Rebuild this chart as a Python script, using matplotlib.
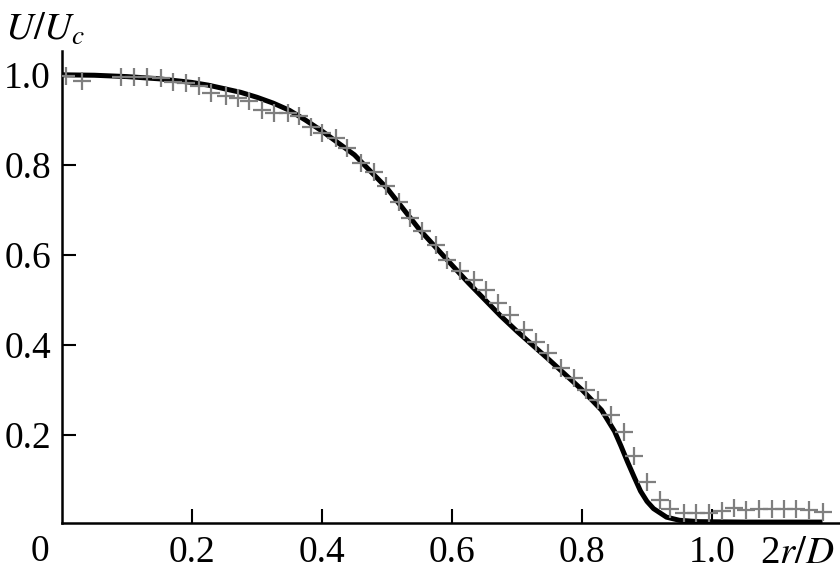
import matplotlib
matplotlib.use("Agg")
import matplotlib.pyplot as plt

plt.rcParams['font.family'] = 'Liberation Serif'
plt.rcParams['mathtext.fontset'] = 'stix'

# measured profile (grey crosses)
exp_x = [0.006, 0.031, 0.090, 0.111, 0.130, 0.152, 0.170, 0.191, 0.211, 0.229,
         0.252, 0.270, 0.288, 0.308, 0.326, 0.347, 0.365, 0.383, 0.400, 0.421,
         0.439, 0.460, 0.480, 0.498, 0.518, 0.536, 0.554, 0.575, 0.593, 0.613,
         0.634, 0.652, 0.670, 0.690, 0.711, 0.729, 0.748, 0.767, 0.788, 0.806,
         0.824, 0.844, 0.865, 0.880, 0.900, 0.920, 0.936, 0.957, 0.976, 0.995,
         1.015, 1.034, 1.052, 1.072, 1.092, 1.111, 1.130, 1.149, 1.170]
exp_y = [0.998, 0.987, 0.996, 0.996, 0.996, 0.992, 0.985, 0.981, 0.975, 0.959,
         0.952, 0.948, 0.941, 0.922, 0.915, 0.915, 0.908, 0.885, 0.870, 0.859,
         0.837, 0.804, 0.785, 0.752, 0.718, 0.681, 0.652, 0.622, 0.589, 0.563,
         0.544, 0.522, 0.493, 0.467, 0.433, 0.407, 0.382, 0.348, 0.326, 0.300,
         0.278, 0.244, 0.207, 0.152, 0.095, 0.056, 0.035, 0.027, 0.026, 0.026,
         0.030, 0.037, 0.032, 0.035, 0.034, 0.034, 0.034, 0.032, 0.029]

# computed profile (black line)
calc_x = [0.0, 0.05, 0.10, 0.15, 0.20, 0.225, 0.25, 0.275, 0.30, 0.325, 0.35,
          0.375, 0.40, 0.45, 0.50, 0.55, 0.60, 0.625, 0.65, 0.675, 0.70, 0.75,
          0.80, 0.83, 0.85, 0.86, 0.87, 0.88, 0.89, 0.90, 0.91, 0.93, 0.95,
          0.98, 1.05, 1.17]
calc_y = [1.0, 0.999, 0.996, 0.991, 0.983, 0.977, 0.969, 0.961, 0.950, 0.937,
          0.921, 0.899, 0.875, 0.822, 0.748, 0.656, 0.577, 0.538, 0.501, 0.464,
          0.430, 0.366, 0.300, 0.255, 0.208, 0.175, 0.140, 0.107, 0.075, 0.052,
          0.036, 0.017, 0.010, 0.007, 0.006, 0.006]

fig = plt.figure(figsize=(8.4, 5.77), dpi=100)
ax = fig.add_axes([62 / 840, 54 / 577, 778 / 840, 472 / 577])

ax.plot(calc_x, calc_y, color='black', lw=3.6, solid_capstyle='butt', zorder=2)
ax.plot(exp_x, exp_y, '+', color='#7f7f7f', ms=13, mew=1.6, zorder=3)

ax.set_xlim(0, 778 / 650)
ax.set_ylim(0.004, 0.004 + 472 / 450)

for s in ['top', 'right']:
    ax.spines[s].set_visible(False)
for s in ['left', 'bottom']:
    ax.spines[s].set_linewidth(1.8)

ax.set_xticks([0.2, 0.4, 0.6, 0.8, 1.0])
ax.set_xticklabels(['0.2', '0.4', '0.6', '0.8', '1.0'])
ax.set_yticks([0.2, 0.4, 0.6, 0.8, 1.0])
ax.set_yticklabels(['0.2', '0.4', '0.6', '0.8', '1.0'])
ax.tick_params(direction='in', length=10, width=1.5, labelsize=27)
ax.tick_params(axis='x', pad=9)
ax.tick_params(axis='y', pad=8)

fig.text(40 / 840, 1 - 552 / 577, '0', ha='center', va='center', fontsize=27)
fig.text(835 / 840, 1 - 563 / 577, '2$r/D$', ha='right', va='baseline',
         fontsize=28)
fig.text(5 / 840, 1 - 30 / 577, '$U/U_c$', ha='left', va='center',
         fontsize=28)

fig.savefig('out.png', dpi=100)
